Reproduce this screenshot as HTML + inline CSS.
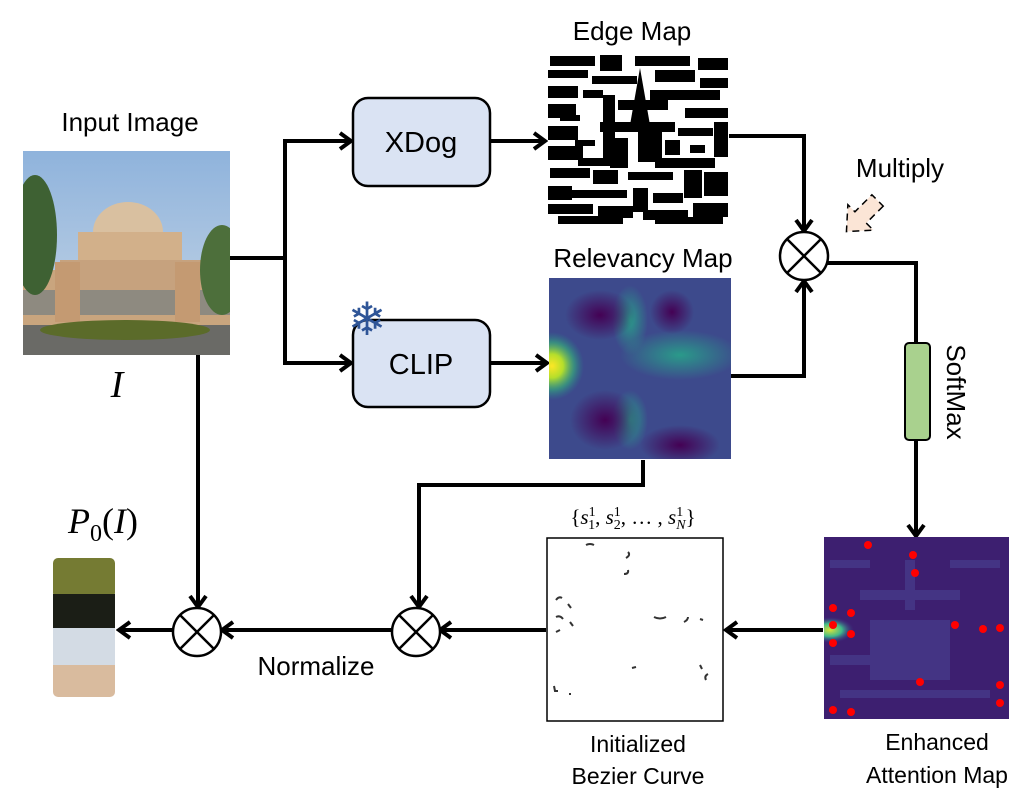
<!DOCTYPE html>
<html><head><meta charset="utf-8"><style>
html,body{margin:0;padding:0;background:#fff;}
svg{display:block;}
text{font-family:"Liberation Sans","DejaVu Sans",sans-serif;fill:#000;}
.s{font-family:"Liberation Serif",serif;font-style:italic;}
</style></head><body>
<svg width="1034" height="810" viewBox="0 0 1034 810" xmlns="http://www.w3.org/2000/svg">
<defs>
<clipPath id="c1"><rect x="23" y="151" width="207" height="204"/></clipPath>
<clipPath id="c2"><rect x="549" y="278" width="182" height="181"/></clipPath>
<clipPath id="c3"><rect x="824" y="537" width="185" height="182"/></clipPath>
<linearGradient id="sky" x1="0" y1="0" x2="0" y2="1"><stop offset="0" stop-color="#8fb3dc"/><stop offset="1" stop-color="#c8d7e6"/></linearGradient>
<radialGradient id="yel" cx="0.5" cy="0.5" r="0.5"><stop offset="0" stop-color="#fde725"/><stop offset="0.35" stop-color="#b5de2b"/><stop offset="0.7" stop-color="#35b779" stop-opacity="0.6"/><stop offset="1" stop-color="#21918c" stop-opacity="0"/></radialGradient>
<radialGradient id="pur" cx="0.5" cy="0.5" r="0.5"><stop offset="0" stop-color="#440154"/><stop offset="1" stop-color="#440154" stop-opacity="0"/></radialGradient>
<radialGradient id="tea" cx="0.5" cy="0.5" r="0.5"><stop offset="0" stop-color="#2a9a8a"/><stop offset="1" stop-color="#2a9a8a" stop-opacity="0"/></radialGradient>
<radialGradient id="yel2" cx="0.5" cy="0.5" r="0.5"><stop offset="0" stop-color="#d8e33a"/><stop offset="0.5" stop-color="#3fb98a"/><stop offset="1" stop-color="#3b3b8a" stop-opacity="0"/></radialGradient>
<marker id="ah" markerWidth="16" markerHeight="20" refX="13" refY="10" orient="auto" markerUnits="userSpaceOnUse">
<polyline points="2,2 13,10 2,18" fill="none" stroke="#000" stroke-width="4"/></marker>
</defs>

<!-- Input image -->
<text x="130" y="131" font-size="26" text-anchor="middle">Input Image</text>
<g clip-path="url(#c1)">
<rect x="23" y="151" width="207" height="204" fill="url(#sky)"/>
<rect x="23" y="270" width="207" height="60" fill="#c9a57e"/>
<ellipse cx="128" cy="232" rx="35" ry="30" fill="#d9c0a0"/>
<rect x="78" y="232" width="104" height="60" fill="#d2b08a"/>
<rect x="60" y="260" width="150" height="50" fill="#c6a27e"/>
<rect x="23" y="290" width="207" height="25" fill="#8e8a80"/>
<rect x="55" y="262" width="25" height="60" fill="#c49a72"/>
<rect x="175" y="262" width="25" height="60" fill="#c49a72"/>
<ellipse cx="35" cy="235" rx="22" ry="60" fill="#3e6133"/>
<ellipse cx="222" cy="270" rx="22" ry="45" fill="#4d6f3b"/>
<rect x="23" y="325" width="207" height="30" fill="#6a6a66"/>
<ellipse cx="125" cy="330" rx="85" ry="10" fill="#5b6b2a"/>
</g>
<text class="s" x="117" y="397" font-size="38" text-anchor="middle">I</text>

<!-- connectors -->
<g fill="none" stroke="#000" stroke-width="4">
<polyline points="230,258 285,258"/>
<polyline points="285,139 285,365"/>
<line x1="283" y1="141" x2="351" y2="141" marker-end="url(#ah)"/>
<line x1="283" y1="363" x2="351" y2="363" marker-end="url(#ah)"/>
<line x1="490" y1="141" x2="545" y2="141" marker-end="url(#ah)"/>
<line x1="490" y1="363" x2="547" y2="363" marker-end="url(#ah)"/>
<polyline points="729,136 804,136 804,231" marker-end="url(#ah)"/>
<polyline points="731,376 804,376 804,281" marker-end="url(#ah)"/>
<polyline points="827,263 916,263 916,343"/>
<line x1="916" y1="440" x2="916" y2="536" marker-end="url(#ah)"/>
<line x1="823" y1="630" x2="726" y2="630" marker-end="url(#ah)"/>
<line x1="546" y1="630" x2="440" y2="630" marker-end="url(#ah)"/>
<line x1="391" y1="630" x2="222" y2="630" marker-end="url(#ah)"/>
<line x1="173" y1="630" x2="119" y2="630" marker-end="url(#ah)"/>
<polyline points="643,460 643,485 419,485 419,607" marker-end="url(#ah)"/>
<line x1="198" y1="355" x2="198" y2="607" marker-end="url(#ah)"/>
</g>

<!-- boxes -->
<rect x="353" y="98" width="137" height="88" rx="15" fill="#dae3f3" stroke="#000" stroke-width="2.5"/>
<text x="421" y="152" font-size="29" text-anchor="middle">XDog</text>
<rect x="353" y="320" width="137" height="87" rx="15" fill="#dae3f3" stroke="#000" stroke-width="2.5"/>
<text x="421" y="374" font-size="29" text-anchor="middle">CLIP</text>
<text x="367" y="335" font-size="46" text-anchor="middle" style="fill:#2f5597">❄</text>

<!-- Edge map -->
<text x="632" y="40" font-size="26" text-anchor="middle">Edge Map</text>
<rect x="548" y="51" width="181" height="175" fill="#fff"/>
<g fill="#000">
<rect x="550" y="56" width="45" height="10"/><rect x="600" y="55" width="22" height="16"/><rect x="635" y="56" width="55" height="10"/><rect x="698" y="58" width="30" height="12"/>
<rect x="548" y="70" width="40" height="8"/><rect x="592" y="76" width="45" height="8"/><rect x="655" y="70" width="40" height="12"/><rect x="700" y="78" width="28" height="10"/>
<rect x="548" y="86" width="30" height="12"/><rect x="583" y="90" width="20" height="8"/><rect x="650" y="90" width="70" height="10"/>
<rect x="548" y="104" width="28" height="14"/><rect x="603" y="95" width="12" height="65"/><rect x="618" y="100" width="50" height="10"/><rect x="685" y="108" width="43" height="10"/>
<polygon points="640,68 650,125 630,125"/>
<rect x="548" y="126" width="30" height="14"/><rect x="600" y="122" width="75" height="10"/><rect x="610" y="138" width="18" height="30"/><rect x="638" y="132" width="24" height="30"/><rect x="678" y="128" width="35" height="8"/><rect x="714" y="122" width="14" height="35"/>
<rect x="548" y="146" width="35" height="14"/><rect x="578" y="158" width="45" height="8"/><rect x="655" y="158" width="60" height="10"/>
<rect x="550" y="168" width="40" height="10"/><rect x="593" y="170" width="25" height="14"/><rect x="628" y="172" width="45" height="8"/><rect x="684" y="170" width="18" height="28"/><rect x="704" y="172" width="24" height="24"/>
<rect x="548" y="186" width="24" height="14"/><rect x="572" y="190" width="55" height="8"/><rect x="633" y="188" width="15" height="24"/><rect x="653" y="193" width="30" height="10"/>
<rect x="548" y="204" width="45" height="10"/><rect x="598" y="206" width="35" height="12"/><rect x="643" y="210" width="45" height="10"/><rect x="693" y="203" width="35" height="14"/>
<rect x="558" y="216" width="65" height="8"/><rect x="655" y="217" width="68" height="7"/>
<rect x="560" y="115" width="20" height="6"/><rect x="575" y="140" width="20" height="6"/><rect x="665" y="140" width="15" height="15"/><rect x="690" y="145" width="15" height="8"/>
</g>

<!-- Relevancy map -->
<text x="643" y="267" font-size="26" text-anchor="middle">Relevancy Map</text>
<g clip-path="url(#c2)">
<rect x="549" y="278" width="182" height="181" fill="#3d4a8c"/>
<ellipse cx="630" cy="320" rx="18" ry="35" fill="url(#tea)"/>
<ellipse cx="680" cy="355" rx="60" ry="25" fill="url(#tea)"/>
<ellipse cx="630" cy="420" rx="18" ry="30" fill="url(#tea)"/>
<ellipse cx="600" cy="315" rx="35" ry="25" fill="url(#pur)"/>
<ellipse cx="672" cy="312" rx="22" ry="22" fill="url(#pur)"/>
<ellipse cx="605" cy="420" rx="35" ry="30" fill="url(#pur)"/>
<ellipse cx="680" cy="445" rx="40" ry="20" fill="url(#pur)"/>
<ellipse cx="552" cy="366" rx="32" ry="34" fill="url(#yel)"/>
</g>

<!-- Multiply -->
<circle cx="804" cy="256" r="24" fill="#fff" stroke="#000" stroke-width="2.5"/>
<line x1="787" y1="239" x2="821" y2="273" stroke="#000" stroke-width="2.5"/>
<line x1="821" y1="239" x2="787" y2="273" stroke="#000" stroke-width="2.5"/>
<text x="900" y="177" font-size="26" text-anchor="middle">Multiply</text>
<g transform="translate(862,216) rotate(135)">
<polygon points="-22,-8 2,-8 2,-18 22,0 2,18 2,8 -22,8" fill="#fbe5d6" stroke="#000" stroke-width="1.5" stroke-dasharray="7,5"/>
</g>

<!-- SoftMax -->
<rect x="905" y="343" width="25" height="97" rx="4" fill="#a9d18e" stroke="#000" stroke-width="2"/>
<text x="955" y="400" font-size="26" text-anchor="middle" transform="rotate(90 955 392)">SoftMax</text>

<!-- Enhanced attention map -->
<g clip-path="url(#c3)">
<rect x="824" y="537" width="185" height="182" fill="#3d1f70"/>
<g fill="#463a8a" opacity="0.8">
<rect x="860" y="590" width="100" height="10"/><rect x="870" y="620" width="80" height="60"/><rect x="830" y="560" width="40" height="8"/><rect x="950" y="560" width="50" height="8"/><rect x="840" y="690" width="150" height="8"/><rect x="830" y="655" width="60" height="10"/><rect x="905" y="560" width="10" height="50"/>
</g>
<ellipse cx="830" cy="630" rx="24" ry="13" fill="url(#yel2)"/>
</g>
<g fill="#f00">
<circle cx="868" cy="545" r="4"/><circle cx="913" cy="555" r="4"/><circle cx="915" cy="573" r="4"/>
<circle cx="833" cy="608" r="4"/><circle cx="851" cy="613" r="4"/><circle cx="833" cy="625" r="4"/><circle cx="851" cy="634" r="4"/><circle cx="833" cy="643" r="4"/>
<circle cx="955" cy="625" r="4"/><circle cx="983" cy="629" r="4"/><circle cx="1000" cy="628" r="4"/>
<circle cx="920" cy="682" r="4"/><circle cx="1000" cy="685" r="4"/><circle cx="1000" cy="703" r="4"/><circle cx="833" cy="710" r="4"/><circle cx="851" cy="712" r="4"/>
</g>
<text x="937" y="750" font-size="23" text-anchor="middle">Enhanced</text>
<text x="937" y="783" font-size="23" text-anchor="middle">Attention Map</text>

<!-- Bezier box -->
<rect x="547" y="538" width="176" height="183" fill="#fff" stroke="#000" stroke-width="1.5"/>
<g fill="none" stroke="#333" stroke-width="2">
<path d="M586,545 q4,-2 8,0"/><path d="M628,552 q3,3 -2,6"/><path d="M628,570 q1,4 -4,4"/><path d="M556,600 q3,-4 6,-2"/><path d="M568,604 l3,4"/>
<path d="M556,617 q4,-2 7,2"/><path d="M570,622 l3,4"/><path d="M556,632 l4,-2"/><path d="M654,617 q6,3 12,0"/><path d="M684,622 q4,-2 4,-5"/><path d="M700,619 l3,1"/>
<path d="M632,668 l4,-1"/><path d="M700,665 l2,4"/><path d="M706,680 q-2,-4 2,-6"/><path d="M554,686 l1,5 l3,0"/><path d="M569,694 l2,0"/>
</g>
<text x="633" y="524" font-size="21" text-anchor="middle" style="font-family:'Liberation Serif',serif">{<tspan font-style="italic">s</tspan><tspan font-size="14" dy="-8">1</tspan><tspan font-size="14" dx="-7" dy="13">1</tspan><tspan dy="-5">, </tspan><tspan font-style="italic">s</tspan><tspan font-size="14" dy="-8">1</tspan><tspan font-size="14" dx="-7" dy="13">2</tspan><tspan dy="-5">, … , </tspan><tspan font-style="italic">s</tspan><tspan font-size="14" dy="-8">1</tspan><tspan font-size="14" dx="-7" dy="13" font-style="italic">N</tspan><tspan dy="-5">}</tspan></text>
<text x="638" y="752" font-size="23" text-anchor="middle">Initialized</text>
<text x="638" y="784" font-size="23" text-anchor="middle">Bezier Curve</text>

<!-- lower multiply circles -->
<g stroke="#000" stroke-width="2.5">
<circle cx="416" cy="632" r="24" fill="#fff"/>
<line x1="399" y1="615" x2="433" y2="649"/><line x1="433" y1="615" x2="399" y2="649"/>
<circle cx="197" cy="632" r="24" fill="#fff"/>
<line x1="180" y1="615" x2="214" y2="649"/><line x1="214" y1="615" x2="180" y2="649"/>
</g>
<text x="316" y="675" font-size="26" text-anchor="middle">Normalize</text>

<!-- palette -->
<text class="s" x="103" y="533" font-size="36" text-anchor="middle">P<tspan font-size="24" dy="8" font-style="normal">0</tspan><tspan dy="-8" font-style="normal">(</tspan>I<tspan font-style="normal">)</tspan></text>
<rect x="53" y="558" width="62" height="40" rx="5" fill="#757b33"/>
<rect x="53" y="594" width="62" height="34" fill="#1b1e16"/>
<rect x="53" y="628" width="62" height="37" fill="#d3dbe4"/>
<rect x="53" y="665" width="62" height="32" rx="5" fill="#d9bb9e"/>
<rect x="53" y="665" width="62" height="10" fill="#d9bb9e"/>
</svg>
</body></html>
